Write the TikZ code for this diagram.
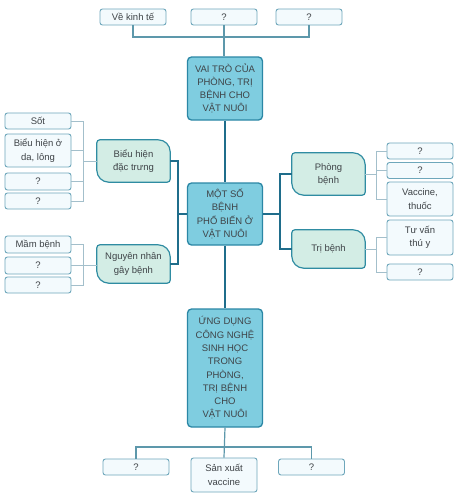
\documentclass[tikz,border=0pt]{standalone}
\usepackage{fontspec}
\setmainfont{Liberation Sans}
\usetikzlibrary{backgrounds,calc}
\definecolor{mainfill}{HTML}{7FCDE0}
\definecolor{mainborder}{HTML}{2B87A5}
\definecolor{leaffill}{HTML}{D3EDE5}
\definecolor{leafborder}{HTML}{2F8CA2}
\definecolor{smallfill}{HTML}{F3FAFD}
\definecolor{smallborder}{HTML}{6EA7BB}
\definecolor{mainlinec}{HTML}{1F6D8B}
\definecolor{sublinec}{HTML}{A3BFCB}
\definecolor{midlinec}{HTML}{5D98AB}
\definecolor{txt}{HTML}{3F4448}
\newcommand\leafshape[1]{%
  \draw[leafline] ([yshift=-3pt]#1.north west) arc[start angle=180,end angle=90,radius=3pt]
    -- ([xshift=-12pt]#1.north east) arc[start angle=90,end angle=0,radius=12pt]
    -- ([yshift=3pt]#1.south east) arc[start angle=0,end angle=-90,radius=3pt]
    -- ([xshift=12pt]#1.south west) arc[start angle=270,end angle=180,radius=12pt]
    -- cycle;}
\begin{document}
\begin{tikzpicture}[x=1pt,y=-1pt,
  every node/.style={font=\fontsize{9.5}{13.3}\selectfont, text=txt, inner sep=0pt, align=center},
  mainbox/.style={draw=mainborder, fill=mainfill, line width=1.3pt, rounded corners=4pt, minimum width=75pt},
  leafnode/.style={minimum width=73pt},
  leafline/.style={draw=leafborder, fill=leaffill, line width=1.2pt},
  small/.style={draw=smallborder, fill=smallfill, line width=0.9pt, rounded corners=2.5pt, minimum width=66pt, minimum height=16pt},
  mainline/.style={draw=mainlinec, line width=1.8pt},
  subline/.style={draw=sublinec, line width=0.9pt},
  midline/.style={draw=midlinec, line width=1.2pt}]
\useasboundingbox (0,0) rectangle (459,499);

% central column
\node[mainbox, minimum height=63pt] (V) at (225,88.5) {VAI TRÒ CỦA\\PHÒNG, TRỊ\\BỆNH CHO\\VẬT NUÔI};
\node[mainbox, minimum height=62pt] (C) at (225,214) {MỘT SỐ\\BỆNH\\PHỔ BIẾN Ở\\VẬT NUÔI};
\node[mainbox, minimum height=118pt] (U) at (225,368) {ỨNG DỤNG\\CÔNG NGHỆ\\SINH HỌC\\TRONG\\PHÒNG,\\TRỊ BỆNH\\CHO\\VẬT NUÔI};

% top boxes
\node[small] (t1) at (133,17) {Về kinh tế};
\node[small] (t2) at (224,17) {?};
\node[small] (t3) at (309,17) {?};
\coordinate (tj) at (224,37);

% bottom boxes
\node[small] (b1) at (136,467) {?};
\node[small, minimum height=34pt] (b2) at (224,475) {Sản xuất\\vaccine};
\node[small] (b3) at (311.5,467) {?};
\coordinate (bj) at (224,447);

% leaves
\node[leafnode, minimum height=42pt] (L1) at (133.5,161) {Biểu hiện\\đặc trưng};
\node[leafnode, minimum height=38pt] (L2) at (133.5,264) {Nguyên nhân\\gây bệnh};
\node[leafnode, minimum height=42pt] (R1) at (328.5,174) {Phòng\\bệnh};
\node[leafnode, minimum height=38pt] (R2) at (328.5,249) {Trị bệnh};

% left small boxes
\node[small] (s1) at (38,121) {Sốt};
\node[small, minimum height=33pt] (s2) at (38,150.5) {Biểu hiện ở\\da, lông};
\node[small, minimum height=17pt] (s3) at (38,181.5) {?};
\node[small] (s4) at (38,201) {?};
\node[small, minimum height=17pt] (m1) at (38,244.5) {Mầm bệnh};
\node[small, minimum height=17pt] (m2) at (38,265.5) {?};
\node[small] (m3) at (38,285) {?};

% right small boxes
\node[small] (r1) at (420,151) {?};
\node[small] (r2) at (420,170.5) {?};
\node[small, minimum height=34pt] (r3) at (420,199) {Vaccine,\\thuốc};
\node[small, minimum height=35pt] (r4) at (420,237.5) {Tư vấn\\thú y};
\node[small] (r5) at (420,272) {?};

\coordinate (lbx) at (83,0);
\coordinate (lj) at (178,0);
\coordinate (rj) at (280,0);
\coordinate (rbx) at (376,0);

% connectors: main
\draw[mainline] (V.south) -- (C.north);
\draw[mainline] (C.south) -- (U.north);
\draw[mainline] (L1.east) -- (L1.east -| lj) |- (L2.east);
\draw[mainline] (C.west) -- (C.west -| lj);
\draw[mainline] (C.east) -- (C.east -| rj);
\draw[mainline] (R1.west) -- (R1.west -| rj) |- (R2.west);

% top / bottom
\draw[midline] (t1.south) |- (tj) -| (t3.south);
\draw[midline] (t2.south) -- (t2.south |- V.north);
\draw[midline] (b1.north) |- (bj) -| (b3.north);
\draw[midline] (U.south) -- (b2.north);

% left brackets
\draw[subline] (s1.east) -- (s1.east -| lbx) |- (s4.east);
\draw[subline] (s2.east) -- (s2.east -| lbx);
\draw[subline] (s3.east) -- (s3.east -| lbx);
\draw[subline] (L1.west) -- (L1.west -| lbx);
\draw[subline] (m1.east) -- (m1.east -| lbx) |- (m3.east);
\draw[subline] (m2.east) -- (m2.east -| L2.west);

% right brackets
\draw[subline] (r1.west) -- (r1.west -| rbx) |- (r3.west);
\draw[subline] (r2.west) -- (r2.west -| rbx);
\draw[subline] (R1.east) -- (R1.east -| rbx);
\draw[subline] (r4.west) -- (r4.west -| rbx) |- (r5.west);
\draw[subline] (R2.east) -- (R2.east -| rbx);

\begin{scope}[on background layer]
  \fill[white] (0,0) rectangle (459,499);
  \leafshape{L1}
  \leafshape{L2}
  \leafshape{R1}
  \leafshape{R2}
\end{scope}
\end{tikzpicture}
\end{document}
